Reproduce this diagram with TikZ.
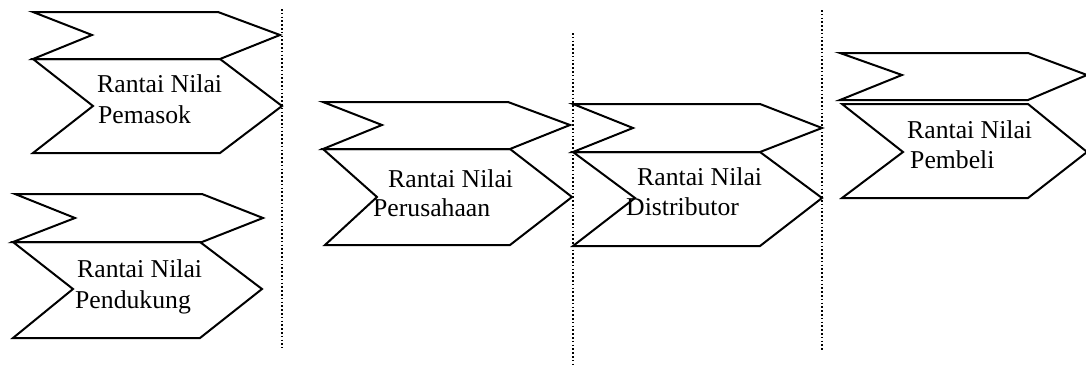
\documentclass[tikz,border=0pt]{standalone}
\usepackage{fontspec}
\setmainfont{Liberation Serif}
\begin{document}
\begin{tikzpicture}[x=1pt,y=-1pt,
  chev/.style={draw=black,line width=2pt,line join=miter},
  divider/.style={draw=black,line width=1.6pt,dash pattern=on 1.6pt off 2.2pt},
  lbl/.style={anchor=base west,inner sep=0pt,font=\fontsize{25.7}{31}\selectfont}]
\useasboundingbox[clip] (0,0) rectangle (1086,364);

% dotted dividers between the stages
\draw[divider] (282,9) -- (282,348);
\draw[divider] (573,33) -- (573,364);
\draw[divider] (822,10) -- (822,350);

% supplier value chain
\draw[chev] (33,12) -- (218,12) -- (280,35) -- (220,59) -- (33,59) -- (92,35) -- cycle;
\draw[chev] (33,59) -- (220,59) -- (282,106) -- (220,153) -- (33,153) -- (93,106) -- cycle;
\node[lbl] (pemA) at (97,92) {Rantai Nilai};
\node[lbl] (pemB) at (98,123) {Pemasok};

% support value chain
\draw[chev] (15,194) -- (202,194) -- (263,218) -- (202,242) -- (13,242) -- (75,218) -- cycle;
\draw[chev] (13,242) -- (200,242) -- (262,289) -- (200,338) -- (13,338) -- (73,289) -- cycle;
\node[lbl] (penA) at (77,277) {Rantai Nilai};
\node[lbl] (penB) at (75,308) {Pendukung};

% company value chain
\draw[chev] (323,102) -- (508,102) -- (570,125) -- (510,149) -- (323,149) -- (382,125) -- cycle;
\draw[chev] (323,149) -- (510,149) -- (572,197) -- (510,245) -- (325,245) -- (377,197) -- cycle;
\node[lbl] (perA) at (388,187) {Rantai Nilai};
\node[lbl] (perB) at (373,216) {Perusahaan};

% distributor value chain
\draw[chev] (573,104) -- (760,104) -- (822,128) -- (760,152) -- (573,152) -- (633,128) -- cycle;
\draw[chev] (573,152) -- (760,152) -- (822,198) -- (760,246) -- (573,246) -- (635,198) -- cycle;
\node[lbl] (disA) at (637,185) {Rantai Nilai};
\node[lbl] (disB) at (626,215) {Distributor};

% buyer value chain
\draw[chev] (840,53) -- (1028,53) -- (1087,75) -- (1028,100) -- (840,100) -- (902,75) -- cycle;
\draw[chev] (842,104) -- (1028,104) -- (1087,152) -- (1028,198) -- (842,198) -- (903,152) -- cycle;
\node[lbl] (pbA) at (907,138) {Rantai Nilai};
\node[lbl] (pbB) at (910,168) {Pembeli};
\end{tikzpicture}
\end{document}
